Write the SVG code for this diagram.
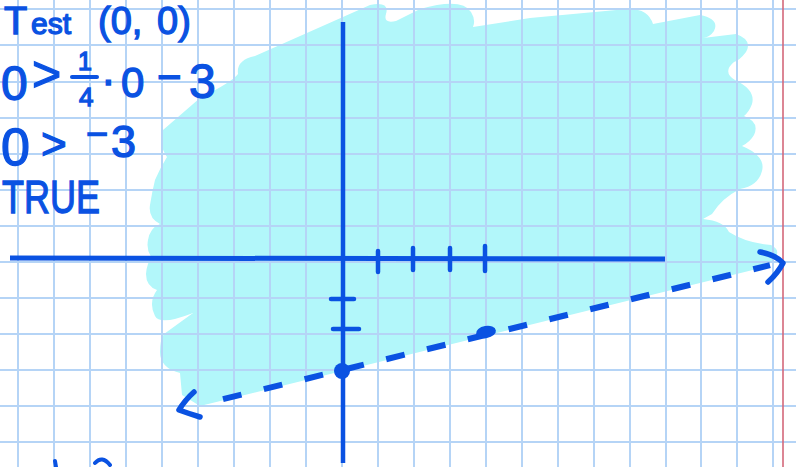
<svg xmlns="http://www.w3.org/2000/svg" width="796" height="467" viewBox="0 0 796 467">
<style>
.grid line{stroke:#b5d4f6;stroke-width:2}
.ink{stroke:#0a52e2;fill:none;stroke-linecap:round;stroke-linejoin:round}
.dot{fill:#0a52e2}
.hw{font-family:"Liberation Sans",Arial,sans-serif;fill:#0a52e2;stroke:#0a52e2;stroke-width:1.3}
</style>
<rect width="796" height="467" fill="#ffffff"/>
<path id="shade" fill="#b2f7fa" d="M163,130 L200,98 Q232,82 238,74 Q236,60 255,56 L370,5 Q390,1 386,14 Q383,24 396,21 L420,9 Q462,-3 471,12 Q476,20 473,27 L530,18 L627,9 Q648,8 653,24 L700,15 Q720,19 714,31 Q710,37 703,38 L736,34 Q753,40 746,52 Q740,60 734,62 Q722,72 735,80 Q756,90 752,104 Q749,112 744,116 Q760,122 754,135 Q750,142 742,146 Q766,156 762,171 Q758,186 740,189 Q722,198 712,214 L703,219 Q724,221 729,232 Q746,243 771,245 Q781,250 775,258 L765,267 L200,406 L182,395 L180,373 Q160,368 160,352 Q160,340 164,334 L193,313 Q160,326 155,316 Q148,302 157,290 Q146,286 146,274 Q147,262 152,258 Q146,250 148,240 Q150,228 160,224 Q148,218 150,205 Q152,192 155,180 Q160,168 167,157 Q160,147 163,140 Z"/>
<g id="grid" class="grid">
<line x1="18" y1="0" x2="18" y2="467"/><line x1="54" y1="0" x2="54" y2="467"/><line x1="90" y1="0" x2="90" y2="467"/><line x1="126" y1="0" x2="126" y2="467"/><line x1="162" y1="0" x2="162" y2="467"/><line x1="198" y1="0" x2="198" y2="467"/><line x1="234" y1="0" x2="234" y2="467"/><line x1="270" y1="0" x2="270" y2="467"/><line x1="306" y1="0" x2="306" y2="467"/><line x1="342" y1="0" x2="342" y2="467"/><line x1="378" y1="0" x2="378" y2="467"/><line x1="414" y1="0" x2="414" y2="467"/><line x1="450" y1="0" x2="450" y2="467"/><line x1="486" y1="0" x2="486" y2="467"/><line x1="522" y1="0" x2="522" y2="467"/><line x1="558" y1="0" x2="558" y2="467"/><line x1="594" y1="0" x2="594" y2="467"/><line x1="630" y1="0" x2="630" y2="467"/><line x1="666" y1="0" x2="666" y2="467"/><line x1="701" y1="0" x2="701" y2="467"/><line x1="737" y1="0" x2="737" y2="467"/><line x1="773" y1="0" x2="773" y2="467"/>
<line x1="0" y1="9" x2="796" y2="9"/><line x1="0" y1="45" x2="796" y2="45"/><line x1="0" y1="82" x2="796" y2="82"/><line x1="0" y1="118" x2="796" y2="118"/><line x1="0" y1="154" x2="796" y2="154"/><line x1="0" y1="190" x2="796" y2="190"/><line x1="0" y1="226" x2="796" y2="226"/><line x1="0" y1="262" x2="796" y2="262"/><line x1="0" y1="298" x2="796" y2="298"/><line x1="0" y1="334" x2="796" y2="334"/><line x1="0" y1="370" x2="796" y2="370"/><line x1="0" y1="406" x2="796" y2="406"/><line x1="0" y1="442" x2="796" y2="442"/>
</g>
<line id="margin" x1="783" y1="0" x2="783" y2="467" stroke="#d4687a" stroke-width="1.6"/>
<g id="axes" class="ink">
<path d="M10,258 L665,259" stroke-width="5" stroke-linecap="butt"/>
<path d="M343,22 L343,463" stroke-width="4.5" stroke-linecap="butt"/>
<g id="ticks" stroke-width="4.5">
<path d="M378,251 L378,272"/><path d="M413,248 L413,270"/><path d="M450,248 L450,270"/><path d="M485,246 L485,271"/>
<path d="M331,299 L354,299"/><path d="M333,329 L359,329"/>
</g>
</g>
<g id="boundary" class="ink">
<path d="M223,399.2 L770,265.2" stroke-width="6" stroke-linecap="butt" stroke-dasharray="19 23"/>
<path d="M760,252 Q776,255 783,263 Q778,273 768,282" stroke-width="5.5"/>
<path d="M194,392 Q185,400 179,410 Q190,414 200,417" stroke-width="5.5"/>
<circle class="dot" cx="342" cy="371" r="8" stroke="none"/>
<ellipse class="dot" cx="486" cy="332" rx="10" ry="6" transform="rotate(-10 486 332)" stroke="none"/>
</g>
<g id="work">
<text class="hw"><tspan x="4" y="34" font-size="38">T</tspan><tspan x="31" y="34" font-size="30">est </tspan><tspan x="98" y="34" font-size="38">(0,</tspan><tspan x="157" y="34" font-size="38">0)</tspan></text>
<text class="hw"><tspan x="1" y="100" font-size="48">0</tspan><tspan x="32" y="91" font-size="50">&gt; </tspan><tspan x="78" y="70" font-size="25">1</tspan><tspan x="79" y="106" font-size="26">4</tspan><tspan x="101" y="95" font-size="44">·</tspan><tspan x="121" y="97" font-size="42">0</tspan><tspan x="157" y="91" font-size="42">−</tspan><tspan x="189" y="98" font-size="48">3</tspan></text>
<path class="ink" d="M72,77 L97,77" stroke-width="4"/>
<text class="hw"><tspan x="1" y="165" font-size="52">0</tspan><tspan x="41" y="159" font-size="44">&gt; </tspan><tspan x="86" y="147" font-size="38">−</tspan><tspan x="111" y="157" font-size="45">3</tspan></text>
<text class="hw" x="2" y="213" font-size="46" textLength="98" lengthAdjust="spacingAndGlyphs">TRUE</text>
<path class="ink" d="M55,461 L56,467 M95,463 Q102,455 110,465" stroke-width="4"/>
</g>
</svg>
